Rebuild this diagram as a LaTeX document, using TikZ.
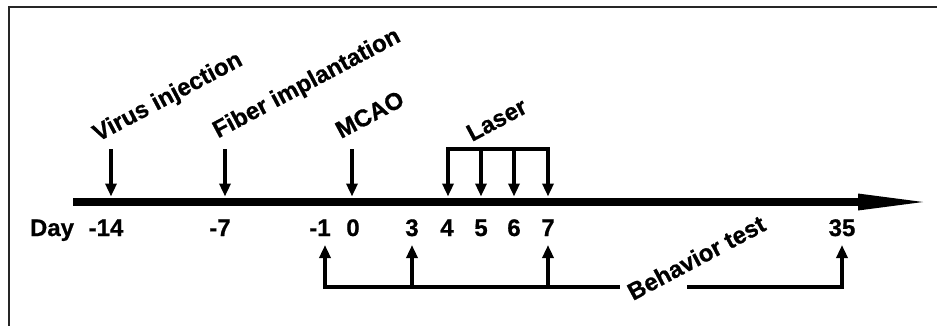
\documentclass[tikz,border=0pt]{standalone}
\usepackage{fontspec}
\setmainfont{Liberation Sans}[BoldFeatures={FakeBold=0.8}]
\usetikzlibrary{arrows.meta}
\begin{document}
\begin{tikzpicture}[x=1pt,y=-1pt,
  txt/.style={font=\bfseries\fontsize{24}{26}\selectfont, inner sep=0pt},
  daylbl/.style={txt, anchor=base},
  tag/.style={txt, anchor=base west, rotate=28},
  arr/.style={line width=3.6pt, -{Triangle[length=13pt,width=11pt]}},
  brk/.style={line width=3.6pt, line join=miter, line cap=rect}]
\useasboundingbox (0,0) rectangle (937,325);
% frame
\draw[line width=2pt, black!85] (9,330) -- (9,7) -- (942,7);

% time axis
\coordinate (axL) at (73,202);
\coordinate (axR) at (860,202);
\draw[line width=8pt] (axL) -- (axR);
\fill (858,193.5) -- (923,202) -- (858,210.5) -- cycle;

% arrow ends above the axis (tips) and their starting points
\foreach \n/\x in {tm14/111, tm7/225, t0/352, t4/448, t5/481, t6/514, t7/548}{
  \coordinate (\n) at (\x,196.5);
  \coordinate (s\n) at (\x,149);
}
% arrow ends below the axis (tips) and their starting points
\foreach \n/\x in {um1/325, u3/412, u7/548, u35/842}{
  \coordinate (\n) at (\x,245);
  \coordinate (s\n) at (\x,287);
}

% day labels
\node[daylbl] (day) at (52,236) {Day};
\node[daylbl] (lm14) at (106,236) {-14};
\node[daylbl] (lm7) at (220,236) {-7};
\node[daylbl] (lm1) at (320,236) {-1};
\node[daylbl] (l0) at (353,236) {0};
\node[daylbl] (l3) at (412,236) {3};
\node[daylbl] (l4) at (447,236) {4};
\node[daylbl] (l5) at (481,236) {5};
\node[daylbl] (l6) at (514,236) {6};
\node[daylbl] (l7) at (548,236) {7};
\node[daylbl] (l35) at (842,236) {35};

% event labels
\node[tag] (virus) at (98,142) {Virus injection};
\node[tag] (fiber) at (218,138.5) {Fiber implantation};
\node[tag] (mcao) at (341,139) {MCAO};
\node[tag] (laser) at (472,142) {Laser};
\node[tag] (behav) at (633,301) {Behavior test};

% single events
\draw[arr] (stm14) -- (tm14);
\draw[arr] (stm7) -- (tm7);
\draw[arr] (st0) -- (t0);

% laser sessions
\draw[brk, {Triangle[length=13pt,width=11pt]}-{Triangle[length=13pt,width=11pt]}]
  (t4) -- (st4) -- (st7) -- (t7);
\draw[arr] (st5) -- (t5);
\draw[arr] (st6) -- (t6);

% behaviour tests
\coordinate (gapL) at (618,287);
\coordinate (gapR) at (689,287);
\draw[brk, {Triangle[length=13pt,width=11pt]}-] (um1) -- (sum1) -- (gapL);
\draw[brk, -{Triangle[length=13pt,width=11pt]}] (gapR) -- (su35) -- (u35);
\draw[arr] (su3) -- (u3);
\draw[arr] (su7) -- (u7);
\end{tikzpicture}
\end{document}
